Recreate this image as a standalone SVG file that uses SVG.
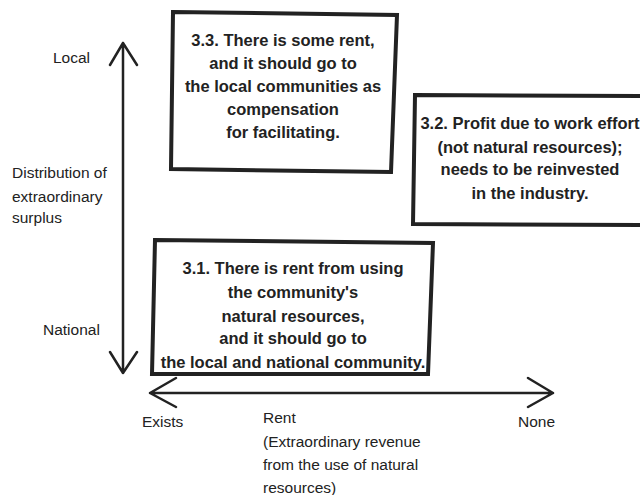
<svg xmlns="http://www.w3.org/2000/svg" width="640" height="495" viewBox="0 0 640 495">
<style>
.box{fill:#fff;stroke:#222;stroke-width:4;stroke-linejoin:miter}
.bt{font-family:"Liberation Sans",Arial,sans-serif;font-weight:bold;font-size:16.5px;fill:#222;text-anchor:middle}
.lt{font-family:"Liberation Sans",Arial,sans-serif;font-size:15.5px;fill:#222}
.ax{fill:none;stroke:#222;stroke-width:2.5;stroke-linecap:round;stroke-linejoin:round}
</style>
<rect width="640" height="495" fill="#fff"/>
<g id="connectors">
<path class="ax" d="M123,43 V373 M110,65 L123,43 L137,65 M110,352 L123,373 L137,352"/>
<path class="ax" d="M150,393 H553 M176,378 L150,393 L176,407 M528,378 L553,393 L528,407"/>
</g>
<g id="node-3-3">
<polygon class="box" points="173,12 397,15 391,172 171,169"/>
<text class="bt" x="283" y="46">3.3. There is some rent,</text>
<text class="bt" x="283" y="69">and it should go to</text>
<text class="bt" x="283" y="92">the local communities as</text>
<text class="bt" x="283" y="115">compensation</text>
<text class="bt" x="283" y="138">for facilitating.</text>
</g>
<g id="node-3-2">
<polygon class="box" points="415,95 645,96 645,225 413,224"/>
<text class="bt" x="530" y="129">3.2. Profit due to work effort</text>
<text class="bt" x="530" y="153">(not natural resources);</text>
<text class="bt" x="530" y="175">needs to be reinvested</text>
<text class="bt" x="530" y="199">in the industry.</text>
</g>
<g id="node-3-1">
<polygon class="box" points="155,240 433,243 428,374 152,374"/>
<text class="bt" x="293" y="274">3.1. There is rent from using</text>
<text class="bt" x="293" y="298">the community's</text>
<text class="bt" x="293" y="322">natural resources,</text>
<text class="bt" x="293" y="344">and it should go to</text>
<text class="bt" x="293" y="368">the local and national community.</text>
</g>
<g id="labels">
<text class="lt" x="53" y="63">Local</text>
<text class="lt" x="12" y="178">Distribution of</text>
<text class="lt" x="12" y="202">extraordinary</text>
<text class="lt" x="12" y="223">surplus</text>
<text class="lt" x="43" y="335">National</text>
<text class="lt" x="142" y="427">Exists</text>
<text class="lt" x="263" y="423">Rent</text>
<text class="lt" x="263" y="447">(Extraordinary revenue</text>
<text class="lt" x="263" y="470">from the use of natural</text>
<text class="lt" x="263" y="493">resources)</text>
<text class="lt" x="518" y="427">None</text>
</g>
</svg>
